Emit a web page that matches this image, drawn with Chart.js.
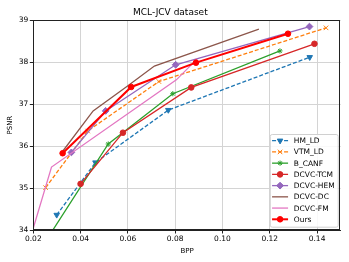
<!DOCTYPE html>
<html>
<head>
<meta charset="utf-8">
<script src="https://cdn.jsdelivr.net/npm/chart.js@4.4.0/dist/chart.umd.min.js"></script>
<style>
  body { margin: 0; background: #fff; }
  #wrap { width: 349px; height: 262px; position: relative; }
</style>
</head>
<body>
<div id="wrap"><canvas id="rdChart"></canvas></div>
<script>
// tick labels
const xTicks = [0.02, 0.04, 0.06, 0.08, 0.10, 0.12, 0.14];
const yTicks = [34, 35, 36, 37, 38, 39];

// series names (legend order)
const names = ['HM_LD', 'VTM_LD', 'B_CANF', 'DCVC-TCM', 'DCVC-HEM', 'DCVC-DC', 'DCVC-FM', 'Ours'];

// bpp / psnr per method
const hmBpp   = [0.0299, 0.0463, 0.0771, 0.1369];
const hmPsnr  = [34.36, 35.61, 36.86, 38.12];
const vtmBpp  = [0.0252, 0.0430, 0.0731, 0.1438];
const vtmPsnr = [35.01, 36.36, 37.54, 38.82];
const canfBpp  = [0.0260, 0.0517, 0.0790, 0.1243];
const canfPsnr = [33.80, 36.05, 37.25, 38.27];
const tcmBpp  = [0.0400, 0.0579, 0.0868, 0.1389];
const tcmPsnr = [35.10, 36.32, 37.40, 38.44];
const hemBpp  = [0.0361, 0.0506, 0.0802, 0.1368];
const hemPsnr = [35.85, 36.84, 37.94, 38.85];
const dcBpp   = [0.0322, 0.0453, 0.0603, 0.0712, 0.1154];
const dcPsnr  = [35.86, 36.84, 37.45, 37.91, 38.79];
const fmBpp   = [0.0195, 0.0277, 0.0805, 0.0893];
const fmPsnr  = [33.95, 35.50, 37.58, 38.08];
const oursBpp  = [0.0324, 0.0614, 0.0888, 0.1277];
const oursPsnr = [35.83, 37.41, 37.99, 38.68];

function pts(xs, ys) {
    return xs.map((x, i) => ({ x: x, y: ys[i] }));
}

const styles = [
    { color: '#1f77b4', dash: [4, 2], point: 'triangle', rot: 180, r: 3.2, w: 1.3 },
    { color: '#ff7f0e', dash: [4, 2], point: 'crossRot', rot: 0, r: 3.2, w: 1.3 },
    { color: '#2ca02c', dash: [], point: 'star', rot: 0, r: 2.6, w: 1.3 },
    { color: '#d62728', dash: [], point: 'circle', rot: 0, r: 2.8, w: 1.3 },
    { color: '#9467bd', dash: [], point: 'rectRot', rot: 0, r: 3.4, w: 1.3 },
    { color: '#8c564b', dash: [], point: 'circle', rot: 0, r: 0, w: 1.3 },
    { color: '#e377c2', dash: [], point: 'circle', rot: 0, r: 0, w: 1.3 },
    { color: '#ff0000', dash: [], point: 'circle', rot: 0, r: 2.8, w: 2 }
];

const series = [
    pts(hmBpp, hmPsnr), pts(vtmBpp, vtmPsnr), pts(canfBpp, canfPsnr), pts(tcmBpp, tcmPsnr),
    pts(hemBpp, hemPsnr), pts(dcBpp, dcPsnr), pts(fmBpp, fmPsnr), pts(oursBpp, oursPsnr)
];

const datasets = series.map((d, i) => ({
    label: names[i],
    data: d,
    borderColor: styles[i].color,
    backgroundColor: styles[i].color,
    borderWidth: styles[i].w,
    borderDash: styles[i].dash,
    pointStyle: styles[i].point,
    pointRotation: styles[i].rot,
    pointRadius: styles[i].r,
    pointBorderWidth: 1,
    pointBorderColor: styles[i].color,
    showLine: true,
    tension: 0,
    order: names.length - i // matplotlib puts later lines on top
}));

// frame around the plot (all four spines)
const framePlugin = {
    id: 'frame',
    afterDatasetsDraw(chart) {
        const a = chart.chartArea, ctx = chart.ctx;
        ctx.save();
        ctx.strokeStyle = '#222';
        ctx.lineWidth = 1;
        ctx.strokeRect(Math.round(a.left) + 0.5, Math.round(a.top) + 0.5,
            Math.round(a.right - a.left) - 1, Math.round(a.bottom - a.top) - 1);
        ctx.restore();
    }
};

// matplotlib-like legend in the lower right corner of the plot
const legendPlugin = {
    id: 'boxLegend',
    afterDraw(chart) {
        const ctx = chart.ctx, a = chart.chartArea;
        const rowH = 11.23, handle = 16, gap = 5.7, padL = 2.3, padR = 3;
        ctx.save();
        ctx.font = '7.5px "DejaVu Sans"';
        let tw = 0;
        names.forEach(n => { tw = Math.max(tw, ctx.measureText(n).width); });
        const w = padL + handle + gap + tw + padR;
        const h = 6.7 + rowH * (names.length - 1) + 7.4;
        const x0 = a.right - 3 - w, y0 = a.bottom - 3.3 - h;
        ctx.fillStyle = 'rgba(255,255,255,0.85)';
        ctx.strokeStyle = '#d0d0d0';
        ctx.lineWidth = 1;
        ctx.beginPath();
        ctx.roundRect(x0 + 0.5, y0 + 0.5, w, h, 2);
        ctx.fill();
        ctx.stroke();
        names.forEach((n, i) => {
            const s = styles[i];
            const cy = y0 + 6.7 + i * rowH;
            const hx = x0 + padL;
            ctx.strokeStyle = s.color;
            ctx.lineWidth = s.w;
            ctx.setLineDash(s.dash);
            ctx.beginPath();
            ctx.moveTo(hx, cy);
            ctx.lineTo(hx + handle, cy);
            ctx.stroke();
            ctx.setLineDash([]);
            if (s.r > 0) {
                ctx.fillStyle = s.color;
                ctx.lineWidth = 1;
                Chart.helpers.drawPoint(ctx, { pointStyle: s.point, rotation: s.rot, radius: s.r, borderWidth: 1 },
                    hx + handle / 2, cy);
            }
            ctx.fillStyle = '#000';
            ctx.textBaseline = 'middle';
            ctx.textAlign = 'left';
            ctx.fillText(n, hx + handle + gap, cy + 0.5);
        });
        ctx.restore();
    }
};

const ctx = document.getElementById('rdChart').getContext('2d');
new Chart(ctx, {
    type: 'scatter',
    data: { datasets: datasets },
    options: {
        responsive: true,
        maintainAspectRatio: false,
        animation: false,
        layout: { padding: { top: 0.5, right: 8.3, left: 0, bottom: 0 } },
        plugins: {
            legend: { display: false },
            tooltip: { enabled: false },
            title: {
                display: true,
                text: 'MCL-JCV dataset',
                color: '#000',
                font: { family: 'DejaVu Sans', size: 9, weight: 'normal' },
                padding: { top: 6.5, bottom: 2.5 }
            }
        },
        scales: {
            x: {
                type: 'linear',
                min: 0.02,
                max: 0.15,
                afterBuildTicks: s => { s.ticks = xTicks.map(v => ({ value: v })); },
                afterFit: s => { s.height = 32; },
                ticks: {
                    callback: v => v.toFixed(2),
                    color: '#000',
                    font: { family: 'DejaVu Sans', size: 7.5 },
                    padding: 1.5,
                    maxRotation: 0
                },
                grid: { color: '#d4d4d4', lineWidth: 1, tickColor: '#222', tickLength: 3.5 },
                border: { color: '#222' },
                title: {
                    display: true,
                    text: 'BPP',
                    color: '#000',
                    font: { family: 'DejaVu Sans', size: 7 },
                    padding: { top: 1, bottom: 7 }
                }
            },
            y: {
                type: 'linear',
                min: 34,
                max: 39,
                afterBuildTicks: s => { s.ticks = yTicks.map(v => ({ value: v })); },
                afterFit: s => { s.width = 33.3; },
                ticks: {
                    callback: v => String(v),
                    color: '#000',
                    font: { family: 'DejaVu Sans', size: 7.5 },
                    padding: 1.5
                },
                grid: { color: '#d4d4d4', lineWidth: 1, tickColor: '#222', tickLength: 3.5 },
                border: { color: '#222' },
                title: {
                    display: true,
                    text: 'PSNR',
                    color: '#000',
                    font: { family: 'DejaVu Sans', size: 7 },
                    padding: { top: 6, bottom: 2 }
                }
            }
        }
    },
    plugins: [framePlugin, legendPlugin]
});
</script>
</body>
</html>
